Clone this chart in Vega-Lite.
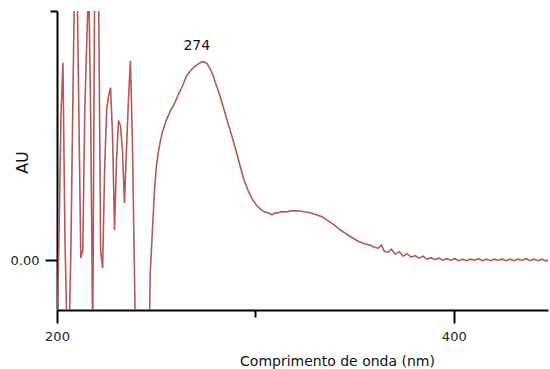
{
  "$schema": "https://vega.github.io/schema/vega-lite/v6.json",
  "width": 491,
  "height": 299,
  "autosize": "none",
  "padding": {"left": 57, "top": 11, "right": 2, "bottom": 59},
  "config": {"view": {"stroke": null}, "font": "DejaVu Sans"},
  "layer": [
    {
      "data": {"values": [
        {"nm": 200, "au": -0.16}, {"nm": 201, "au": 0.047}, {"nm": 202, "au": 0.29}, {"nm": 203, "au": 0.396},
        {"nm": 204, "au": 0.047}, {"nm": 205, "au": -0.14}, {"nm": 206, "au": -0.17}, {"nm": 207, "au": 0.02},
        {"nm": 208, "au": 0.32}, {"nm": 209, "au": 0.6}, {"nm": 210, "au": 0.6}, {"nm": 211, "au": 0.3},
        {"nm": 212, "au": 0.004}, {"nm": 213, "au": 0.02}, {"nm": 214, "au": 0.3}, {"nm": 215, "au": 0.44},
        {"nm": 216, "au": 0.56}, {"nm": 217, "au": 0.28}, {"nm": 218, "au": -0.16}, {"nm": 219, "au": 0.58},
        {"nm": 220, "au": 0.6}, {"nm": 221, "au": 0.52}, {"nm": 222, "au": 0.02}, {"nm": 223, "au": -0.016},
        {"nm": 224, "au": 0.18}, {"nm": 225, "au": 0.3}, {"nm": 226, "au": 0.33}, {"nm": 227, "au": 0.346},
        {"nm": 228, "au": 0.25}, {"nm": 229, "au": 0.06}, {"nm": 230, "au": 0.2}, {"nm": 231, "au": 0.28},
        {"nm": 232, "au": 0.27}, {"nm": 233, "au": 0.22}, {"nm": 234, "au": 0.115}, {"nm": 235, "au": 0.22},
        {"nm": 236, "au": 0.32}, {"nm": 237, "au": 0.4}, {"nm": 238, "au": 0.24}, {"nm": 239, "au": -0.01},
        {"nm": 240, "au": -0.28}, {"nm": 241, "au": -0.35}, {"nm": 242, "au": -0.4}, {"nm": 243, "au": -0.42},
        {"nm": 244, "au": -0.4}, {"nm": 245, "au": -0.36}, {"nm": 246, "au": -0.28}, {"nm": 247, "au": -0.024},
        {"nm": 248, "au": 0.051}, {"nm": 249, "au": 0.13}, {"nm": 250, "au": 0.185}, {"nm": 251, "au": 0.215},
        {"nm": 252, "au": 0.237}, {"nm": 253, "au": 0.255}, {"nm": 255.1, "au": 0.281}, {"nm": 257.1, "au": 0.299},
        {"nm": 259.1, "au": 0.313}, {"nm": 261.1, "au": 0.332}, {"nm": 263.1, "au": 0.348}, {"nm": 265.1, "au": 0.368},
        {"nm": 267.2, "au": 0.38}, {"nm": 269.2, "au": 0.388}, {"nm": 271.2, "au": 0.394}, {"nm": 273.2, "au": 0.398},
        {"nm": 274.2, "au": 0.398}, {"nm": 275.7, "au": 0.394}, {"nm": 277.2, "au": 0.384}, {"nm": 278.7, "au": 0.37},
        {"nm": 280.2, "au": 0.352}, {"nm": 282.3, "au": 0.328}, {"nm": 284.3, "au": 0.301}, {"nm": 286.3, "au": 0.273},
        {"nm": 288.3, "au": 0.247}, {"nm": 290.3, "au": 0.219}, {"nm": 292.3, "au": 0.189}, {"nm": 294.3, "au": 0.161},
        {"nm": 296.4, "au": 0.139}, {"nm": 298.4, "au": 0.123}, {"nm": 300.4, "au": 0.111}, {"nm": 302.4, "au": 0.103},
        {"nm": 304.4, "au": 0.097}, {"nm": 306.4, "au": 0.095}, {"nm": 308.4, "au": 0.091}, {"nm": 309.9, "au": 0.095},
        {"nm": 311.4, "au": 0.095}, {"nm": 312.9, "au": 0.097}, {"nm": 315.4, "au": 0.097}, {"nm": 318.5, "au": 0.099},
        {"nm": 321.5, "au": 0.099}, {"nm": 324.6, "au": 0.097}, {"nm": 327.6, "au": 0.095}, {"nm": 330.6, "au": 0.091},
        {"nm": 333.6, "au": 0.087}, {"nm": 336.7, "au": 0.079}, {"nm": 339.7, "au": 0.071}, {"nm": 342.7, "au": 0.061},
        {"nm": 345.7, "au": 0.053}, {"nm": 348.8, "au": 0.045}, {"nm": 351.8, "au": 0.038}, {"nm": 354.8, "au": 0.033},
        {"nm": 358.0, "au": 0.03}, {"nm": 360.0, "au": 0.026}, {"nm": 362.0, "au": 0.024}, {"nm": 363.5, "au": 0.03},
        {"nm": 365.0, "au": 0.018}, {"nm": 367.0, "au": 0.016}, {"nm": 368.5, "au": 0.022}, {"nm": 370.5, "au": 0.012},
        {"nm": 372.5, "au": 0.017}, {"nm": 374.5, "au": 0.008}, {"nm": 376.5, "au": 0.013}, {"nm": 378.5, "au": 0.006},
        {"nm": 380.5, "au": 0.009}, {"nm": 382.5, "au": 0.004}, {"nm": 384.5, "au": 0.008}, {"nm": 386.5, "au": 0.002},
        {"nm": 388.5, "au": 0.005}, {"nm": 390.5, "au": 0.001}, {"nm": 392.5, "au": 0.004}, {"nm": 394.5, "au": 0.0},
        {"nm": 396.5, "au": 0.003}, {"nm": 398.5, "au": 0.0}, {"nm": 400.5, "au": 0.003}, {"nm": 402.5, "au": -0.001},
        {"nm": 404.5, "au": 0.002}, {"nm": 406.5, "au": -0.001}, {"nm": 408.5, "au": 0.002}, {"nm": 410.5, "au": 0.0},
        {"nm": 412.5, "au": 0.003}, {"nm": 414.5, "au": -0.001}, {"nm": 416.5, "au": 0.002}, {"nm": 418.5, "au": -0.001},
        {"nm": 420.5, "au": 0.002}, {"nm": 422.5, "au": 0.0}, {"nm": 424.5, "au": 0.002}, {"nm": 426.5, "au": -0.001},
        {"nm": 428.5, "au": 0.002}, {"nm": 430.5, "au": -0.001}, {"nm": 432.5, "au": 0.002}, {"nm": 434.5, "au": 0.0},
        {"nm": 436.5, "au": 0.003}, {"nm": 438.5, "au": -0.001}, {"nm": 440.5, "au": 0.002}, {"nm": 442.5, "au": -0.001},
        {"nm": 444.5, "au": 0.002}, {"nm": 446.5, "au": -0.002}, {"nm": 448.0, "au": 0.002}
      ]},
      "mark": {"type": "line", "clip": true, "color": "#b55858", "strokeWidth": 1.6},
      "encoding": {
        "x": {
          "field": "nm", "type": "quantitative",
          "scale": {"domain": [200, 447.5], "nice": false, "zero": false},
          "axis": {
            "values": [200, 300, 400],
            "format": "d",
            "labelExpr": "datum.value == 300 ? '' : datum.label",
            "title": "Comprimento de onda (nm)",
            "grid": false,
            "domainColor": "#000", "domainWidth": 2,
            "tickColor": "#000", "tickWidth": 2,
            "tickSize": {"condition": {"test": "datum.value == 300", "value": 7}, "value": 13},
            "labelPadding": 7, "labelFontSize": 13, "labelColor": "#222", "labelFlush": false,
            "titleFontSize": 14, "titleFontWeight": "normal", "titleColor": "#111",
            "titleX": 280, "titleY": 55, "titleAlign": "center", "titleBaseline": "alphabetic"
          }
        },
        "y": {
          "field": "au", "type": "quantitative",
          "scale": {"domain": [-0.1, 0.5], "nice": false, "zero": false},
          "axis": {
            "values": [0, 0.5],
            "labelExpr": "datum.value == 0 ? '0.00' : ''",
            "title": "AU",
            "grid": false,
            "domainColor": "#000", "domainWidth": 2,
            "tickColor": "#000", "tickWidth": 2,
            "tickSize": {"condition": {"test": "datum.value == 0", "value": 12}, "value": 7},
            "labelPadding": 6, "labelFontSize": 13, "labelColor": "#222",
            "titleFontSize": 16, "titleFontWeight": "normal", "titleColor": "#111",
            "titleX": -34.5, "titleY": 151, "titleAngle": -90, "titleAlign": "center", "titleBaseline": "middle"
          }
        }
      }
    },
    {
      "data": {"values": [{"nm": 274, "au": 0.398, "label": "274"}]},
      "mark": {"type": "text", "dx": -7, "dy": -12, "baseline": "alphabetic", "fontSize": 14, "color": "#111"},
      "encoding": {
        "x": {"field": "nm", "type": "quantitative"},
        "y": {"field": "au", "type": "quantitative"},
        "text": {"field": "label"}
      }
    }
  ]
}
